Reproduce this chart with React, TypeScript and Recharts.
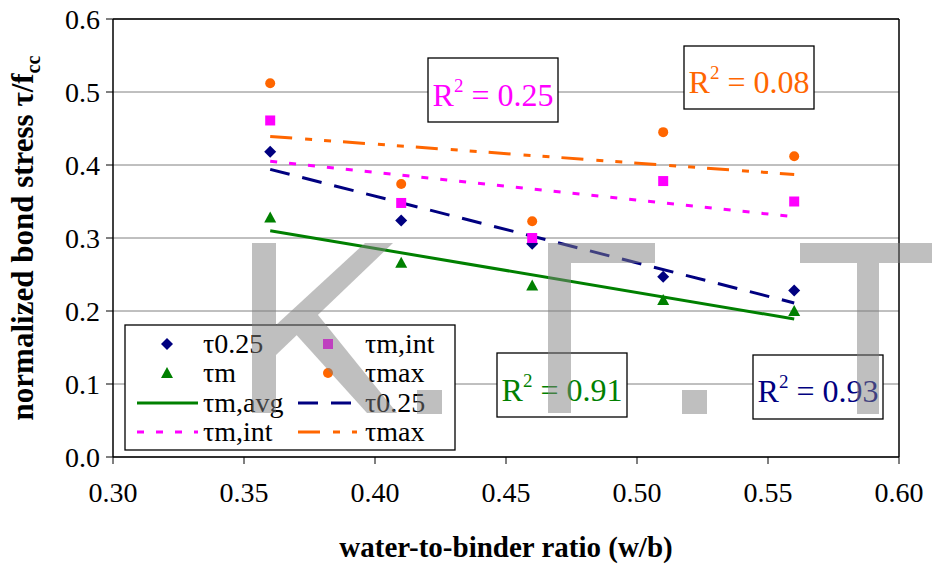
import React from "react";
import {
  ScatterChart,
  Scatter,
  XAxis,
  YAxis,
  CartesianGrid,
  ReferenceLine,
} from "recharts";

const FONT = "'Liberation Serif', 'Times New Roman', serif";

// measured values, w/b = 0.36 ... 0.56
const wbRatio = [0.36, 0.41, 0.46, 0.51, 0.56];
const tau025 = [0.418, 0.324, 0.292, 0.247, 0.228];
const tauMInt = [0.461, 0.348, 0.3, 0.378, 0.35];
const tauM = [0.328, 0.266, 0.235, 0.215, 0.2];
const tauMax = [0.512, 0.374, 0.323, 0.445, 0.412];

// linear trend lines (end points)
const fitX = [0.36, 0.56];
const tauMAvgFit = [0.31, 0.189];
const tau025Fit = [0.394, 0.211];
const tauMIntFit = [0.405, 0.329];
const tauMaxFit = [0.439, 0.387];

const xTicks = [0.3, 0.35, 0.4, 0.45, 0.5, 0.55, 0.6];
const yTicks = [0, 0.1, 0.2, 0.3, 0.4, 0.5, 0.6];

const r2Labels = [
  { value: "0.25", color: "#FF00FF" },
  { value: "0.08", color: "#FF6600" },
  { value: "0.91", color: "#008000" },
  { value: "0.93", color: "#000080" },
];

const NAVY = "#000080";
const MAGENTA = "#FF00FF";
const GREEN = "#008000";
const ORANGE = "#FF6600";

const DASH_025 = "20 13";
const DASH_INT = "7 12";
const DASH_MAX = "22 13 7 12 7 12";

const rows = (xs: number[], ys: number[]) => xs.map((x, i) => ({ x, y: ys[i] }));

const Diamond = (p: any) => (
  <path d={`M${p.cx},${p.cy - 6}L${p.cx + 6},${p.cy}L${p.cx},${p.cy + 6}L${p.cx - 6},${p.cy}Z`} fill={NAVY} />
);
const Square = (p: any) => <rect x={p.cx - 5} y={p.cy - 5} width={10} height={10} fill={MAGENTA} />;
const Triangle = (p: any) => (
  <path d={`M${p.cx},${p.cy - 6}L${p.cx + 6},${p.cy + 5}L${p.cx - 6},${p.cy + 5}Z`} fill={GREEN} />
);
const Dot = (p: any) => <circle cx={p.cx} cy={p.cy} r={5} fill={ORANGE} />;
const NoShape = () => <g />;

function R2Box({ x, y, w, h, base, value, color }: any) {
  return (
    <g>
      <rect x={x} y={y} width={w} height={h} fill="#fff" stroke="#000" strokeWidth={1.3} />
      <text x={x + w / 2} y={base} textAnchor="middle" style={{ fontFamily: FONT }} fontSize={32} fill={color}>
        R
        <tspan fontSize={19} dy={-14}>2</tspan>
        <tspan dy={14}> = {value}</tspan>
      </text>
    </g>
  );
}

function LegendBox() {
  const rowY = [344, 373, 403, 432];
  const t = (x: number, y: number, s: string) => (
    <text x={x} y={y + 9} style={{ fontFamily: FONT }} fontSize={28} fill="#000">
      {s}
    </text>
  );
  const seg = (x1: number, x2: number, y: number, c: string, dash?: string) => (
    <line x1={x1} x2={x2} y1={y} y2={y} stroke={c} strokeWidth={3} strokeDasharray={dash} />
  );
  return (
    <g>
      <rect x={125} y={325} width={330} height={125} fill="#fff" stroke="#000" strokeWidth={1.3} />
      <Diamond cx={167} cy={rowY[0]} />
      {t(203, rowY[0], "τ0.25")}
      <Square cx={328} cy={rowY[0]} />
      {t(365, rowY[0], "τm,int")}
      <Triangle cx={167} cy={rowY[1]} />
      {t(203, rowY[1], "τm")}
      <Dot cx={328} cy={rowY[1]} />
      {t(365, rowY[1], "τmax")}
      {seg(137, 198, rowY[2], GREEN)}
      {t(203, rowY[2], "τm,avg")}
      {seg(298, 357, rowY[2], NAVY, DASH_025)}
      {t(365, rowY[2], "τ0.25")}
      {seg(137, 198, rowY[3], MAGENTA, DASH_INT)}
      {t(203, rowY[3], "τm,int")}
      {seg(298, 357, rowY[3], ORANGE, DASH_MAX)}
      {t(365, rowY[3], "τmax")}
    </g>
  );
}

function Watermark() {
  return (
    <g fill="#808080" opacity={0.5}>
      <rect x={252} y={243} width={24} height={170} />
      <polygon points="276,325 365,243 393,243 276,355" />
      <polygon points="292,330 314,310 397,413 367,413" />
      <rect x={417} y={390} width={25} height={24} />
      <rect x={548} y={243} width={107} height={20} />
      <rect x={548} y={263} width={23} height={150} />
      <rect x={682} y={390} width={25} height={24} />
      <rect x={800} y={243} width={132} height={20} />
      <rect x={857} y={263} width={22} height={151} />
    </g>
  );
}

const tickStyle = { fontSize: 28, fill: "#000", style: { fontFamily: FONT } };

export default function App() {
  return (
    <div
      style={{
        position: "absolute",
        left: 0,
        top: 0,
        width: 932,
        height: 565,
        background: "#fff",
        fontFamily: FONT,
      }}
    >
      <ScatterChart width={932} height={565} margin={{ top: 19, right: 33, left: 43, bottom: 48 }}>
        <CartesianGrid vertical={false} stroke="#808080" />
        <XAxis
          type="number"
          dataKey="x"
          domain={[0.3, 0.6]}
          ticks={xTicks}
          tickFormatter={(v: number) => v.toFixed(2)}
          tick={tickStyle}
          tickSize={7}
          tickMargin={18}
          height={60}
          axisLine={{ stroke: "#000", strokeWidth: 1.5 }}
          tickLine={{ stroke: "#000" }}
          label={({ viewBox }: any) => (
            <text
              x={viewBox.x + viewBox.width / 2}
              y={557}
              textAnchor="middle"
              style={{ fontFamily: FONT }}
              fontWeight="bold"
              fontSize={29}
              fill="#000"
            >
              water-to-binder ratio (w/b)
            </text>
          )}
        />
        <YAxis
          type="number"
          dataKey="y"
          domain={[0, 0.6]}
          ticks={yTicks}
          tickFormatter={(v: number) => v.toFixed(1)}
          tick={tickStyle}
          tickSize={7}
          tickMargin={6}
          width={70}
          axisLine={{ stroke: "#000", strokeWidth: 1.5 }}
          tickLine={{ stroke: "#000" }}
          label={({ viewBox }: any) => (
            <text
              transform={`translate(33, ${viewBox.y + viewBox.height / 2}) rotate(-90)`}
              textAnchor="middle"
              style={{ fontFamily: FONT }}
              fontWeight="bold"
              fontSize={31}
              fill="#000"
            >
              normalized bond stress τ/f
              <tspan fontSize={20} dy={7}>cc</tspan>
            </text>
          )}
        />
        <ReferenceLine y={0.6} stroke="#000" strokeWidth={1.5} />
        <ReferenceLine x={0.6} stroke="#000" strokeWidth={1.5} />

        <Scatter data={rows(fitX, tauMAvgFit)} fill={GREEN} shape={NoShape} line={{ stroke: GREEN, strokeWidth: 3 }} isAnimationActive={false} />
        <Scatter data={rows(fitX, tau025Fit)} fill={NAVY} shape={NoShape} line={{ stroke: NAVY, strokeWidth: 3, strokeDasharray: DASH_025 }} isAnimationActive={false} />
        <Scatter data={rows(fitX, tauMIntFit)} fill={MAGENTA} shape={NoShape} line={{ stroke: MAGENTA, strokeWidth: 3, strokeDasharray: DASH_INT }} isAnimationActive={false} />
        <Scatter data={rows(fitX, tauMaxFit)} fill={ORANGE} shape={NoShape} line={{ stroke: ORANGE, strokeWidth: 3, strokeDasharray: DASH_MAX }} isAnimationActive={false} />

        <Scatter data={rows(wbRatio, tau025)} shape={Diamond} isAnimationActive={false} />
        <Scatter data={rows(wbRatio, tauMInt)} shape={Square} isAnimationActive={false} />
        <Scatter data={rows(wbRatio, tauM)} shape={Triangle} isAnimationActive={false} />
        <Scatter data={rows(wbRatio, tauMax)} shape={Dot} isAnimationActive={false} />
      </ScatterChart>

      <svg width={932} height={565} style={{ position: "absolute", left: 0, top: 0, pointerEvents: "none" }}>
        <R2Box x={428} y={58} w={130} h={64} base={106} {...r2Labels[0]} />
        <R2Box x={684} y={46} w={130} h={63} base={93} {...r2Labels[1]} />
        <R2Box x={497} y={353} w={130} h={64} base={401} {...r2Labels[2]} />
        <R2Box x={753} y={355} w={130} h={64} base={402} {...r2Labels[3]} />
        <LegendBox />
        <Watermark />
      </svg>
    </div>
  );
}
